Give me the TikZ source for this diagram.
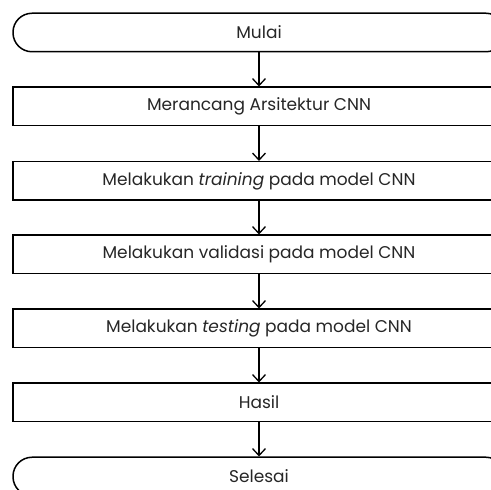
\documentclass[tikz,border=0pt]{standalone}
\usepackage{fontspec}
\setmainfont{Poppins}
\usetikzlibrary{arrows.meta}
\tikzset{
  proses/.style = {draw, line width=1.5pt, minimum width=492pt, minimum height=38.5pt, inner sep=0pt, font=\fontsize{17}{20}\selectfont, text=black!85},
  terminal/.style = {proses, rounded corners=19pt},
  panah/.style = {line width=1.5pt, -{Straight Barb[length=7pt,width=13pt,line width=1.3pt]}}
}
\begin{document}
\begin{tikzpicture}[x=1pt,y=1pt]
\useasboundingbox (0,0) rectangle (491,490);
\clip (0,0) rectangle (491,490);
\node [terminal] (mulai) at (259,457.5) {Mulai};
\node [proses] (rancang) at (259,383.5) {Merancang Arsitektur CNN};
\node [proses] (training) at (259,309) {Melakukan \textit{training} pada model CNN};
\node [proses] (validasi) at (259,235.5) {Melakukan validasi pada model CNN};
\node [proses] (testing) at (259,161.5) {Melakukan \textit{testing} pada model CNN};
\node [proses] (hasil) at (259,87.5) {Hasil};
\node [terminal] (selesai) at (259,13.5) {Selesai};
\draw [panah] (mulai) -- (rancang);
\draw [panah] (rancang) -- (training);
\draw [panah] (training) -- (validasi);
\draw [panah] (validasi) -- (testing);
\draw [panah] (testing) -- (hasil);
\draw [panah] (hasil) -- (selesai);
\end{tikzpicture}
\end{document}
